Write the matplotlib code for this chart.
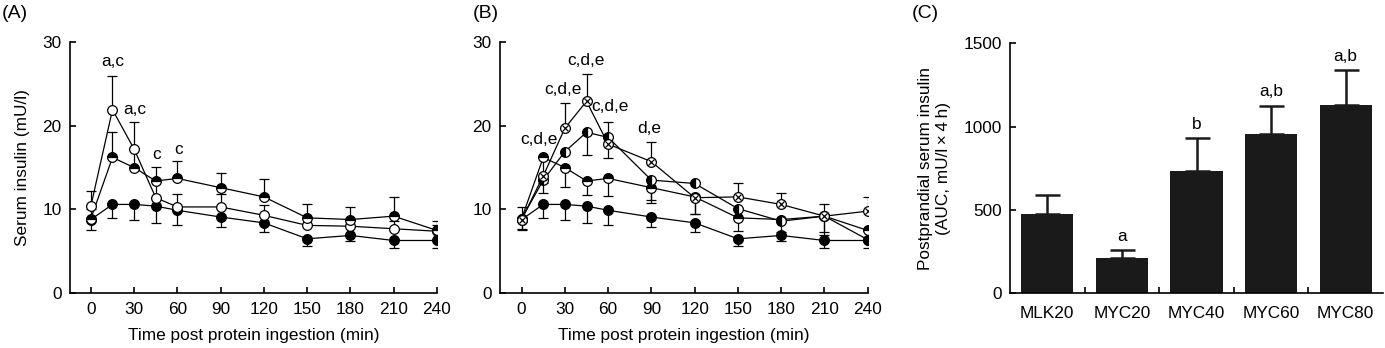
import matplotlib.pyplot as plt
import numpy as np

plt.rcParams['font.family'] = ['Liberation Sans', 'DejaVu Sans']
plt.rcParams['font.size'] = 12.4

# --- data ---
times = [0, 15, 30, 45, 60, 90, 120, 150, 180, 210, 240]

myc20 = [8.8, 10.6, 10.6, 10.4, 9.9, 9.1, 8.4, 6.5, 6.9, 6.3, 6.3]
myc20_se = [1.3, 1.6, 1.9, 2.0, 1.8, 1.2, 1.1, 0.8, 0.7, 0.9, 0.9]

mlk20 = [10.4, 21.9, 17.2, 11.4, 10.3, 10.3, 9.3, 8.1, 8.0, 7.7, 7.4]
mlk20_se = [1.8, 4.0, 3.2, 1.9, 1.6, 1.5, 1.2, 0.9, 0.8, 0.9, 0.8]

myc40 = [8.9, 16.2, 15.0, 13.4, 13.7, 12.6, 11.5, 9.0, 8.8, 9.2, 7.5]
myc40_se = [1.2, 3.0, 2.3, 1.7, 2.1, 1.8, 2.1, 1.6, 1.5, 2.3, 1.1]

myc60 = [8.9, 13.5, 16.9, 19.2, 18.6, 13.5, 13.1, 10.1, 8.6, 9.2, 6.4]
myc60_lo = [0, 1.5, 0, 2.7, 0, 2.4, 0, 0, 0, 1.9, 0]
myc60_hi = [0, 0, 0, 0, 1.8, 0, 0, 0, 0, 0, 0]

myc80 = [8.8, 14.0, 19.7, 22.9, 17.8, 15.7, 11.4, 11.5, 10.6, 9.2, 9.8]
myc80_lo = [0, 0, 0, 0, 1.7, 0, 1.9, 0, 0, 0, 0]
myc80_hi = [1.5, 0, 3.0, 3.2, 0, 2.4, 0, 1.7, 1.4, 1.4, 1.7]

# annotations (x, y, text)
notes_a = [(15.4, 27.7, 'a,c'), (30.7, 21.9, 'a,c'), (45.9, 16.6, 'c'), (60.5, 17.1, 'c')]
notes_b = [(12.2, 18.4, 'c,d,e'), (28.9, 24.3, 'c,d,e'), (44.4, 27.8, 'c,d,e'),
           (61.2, 22.3, 'c,d,e'), (88.5, 19.6, 'd,e')]

groups = ['MLK20', 'MYC20', 'MYC40', 'MYC60', 'MYC80']
auc = [474, 212, 735, 957, 1129]
auc_se = [113, 46, 194, 168, 209]
auc_notes = ['', 'a', 'b', 'a,b', 'a,b']

zeros = [0] * len(times)
MS = 7
LW = 0.9


def series(ax, y, lo, hi, kind):
    ax.errorbar(times, y, yerr=[lo, hi], fmt='none', ecolor='k', elinewidth=LW,
                capsize=3.5, capthick=LW, zorder=1)
    ax.plot(times, y, '-', color='k', lw=LW, zorder=2)
    kw = dict(ls='none', ms=MS, mec='k', mew=LW, zorder=4)
    if kind == 'filled':
        ax.plot(times, y, 'o', mfc='k', **kw)
    elif kind == 'open':
        ax.plot(times, y, 'o', mfc='white', **kw)
    elif kind == 'top':
        ax.plot(times, y, 'o', fillstyle='top', mfc='k', mfcalt='white', **kw)
    elif kind == 'left':
        ax.plot(times, y, 'o', fillstyle='left', mfc='k', mfcalt='white', **kw)
    elif kind == 'cross':
        ax.plot(times, y, 'o', mfc='white', **kw)
        kw['zorder'] = 5
        kw['ms'] = MS / 1.45
        ax.plot(times, y, 'x', **kw)


def style_time_axis(ax, xmin):
    ax.set_xlim(xmin, 240)
    ax.set_ylim(0, 30)
    ax.set_xticks(range(0, 241, 30))
    ax.set_yticks([0, 10, 20, 30])
    for s in ['top', 'right']:
        ax.spines[s].set_visible(False)
    for s in ['left', 'bottom']:
        ax.spines[s].set_linewidth(1.2)
    ax.tick_params(direction='in', length=4, width=1.2, pad=6)
    ax.set_xlabel('Time post protein ingestion (min)', labelpad=8)


fig = plt.figure(figsize=(13.85, 3.48), dpi=100)
h = 0.7227
axA = fig.add_axes([0.0505, 0.1572, 0.2650, h])
axB = fig.add_axes([0.3610, 0.1572, 0.2655, h])
axC = fig.add_axes([0.7292, 0.1580, 0.2694, 0.7176])

# panel A
series(axA, myc20, myc20_se, zeros, 'filled')
series(axA, mlk20, zeros, mlk20_se, 'open')
series(axA, myc40, zeros, myc40_se, 'top')
style_time_axis(axA, -14.5)
axA.set_ylabel('Serum insulin (mU/l)', labelpad=9)
for x, y, t in notes_a:
    axA.text(x, y, t, ha='center', va='center')

# panel B
series(axB, myc20, myc20_se, zeros, 'filled')
series(axB, myc40, myc40_se, zeros, 'top')
series(axB, myc60, myc60_lo, myc60_hi, 'left')
series(axB, myc80, myc80_lo, myc80_hi, 'cross')
style_time_axis(axB, -15)
for x, y, t in notes_b:
    axB.text(x, y, t, ha='center', va='center')

# panel C
xs = np.arange(len(groups))
axC.bar(xs, auc, width=0.7, color='#1a1a1a', zorder=2,
        yerr=[[0] * len(auc), auc_se],
        error_kw=dict(ecolor='#1a1a1a', elinewidth=1.8, capsize=9, capthick=1.8, zorder=1))
for x, v, e, t in zip(xs, auc, auc_se, auc_notes):
    if t:
        axC.annotate(t, (x, v + e), xytext=(0, 10), textcoords='offset points',
                     ha='center', va='center')
axC.set_xlim(-0.5, 4.5)
axC.set_ylim(0, 1500)
axC.set_yticks([0, 500, 1000, 1500])
axC.set_xticks(xs)
axC.set_xticklabels(groups)
axC.set_xticks(xs[:-1] + 0.5, minor=True)
axC.tick_params(axis='x', which='major', length=0, pad=9)
axC.tick_params(axis='x', which='minor', direction='in', length=4, width=1.2)
axC.tick_params(axis='y', direction='in', length=4, width=1.2, pad=6)
for s in ['top', 'right']:
    axC.spines[s].set_visible(False)
for s in ['left', 'bottom']:
    axC.spines[s].set_linewidth(1.2)
axC.set_ylabel('Postprandial serum insulin\n(AUC, mU/l\u2009\u00d7\u20094\u2009h)', labelpad=9)

fig.text(0.0015, 0.985, '(A)', fontsize=14, va='top', ha='left')
fig.text(0.3415, 0.985, '(B)', fontsize=14, va='top', ha='left')
fig.text(0.658, 0.985, '(C)', fontsize=14, va='top', ha='left')

fig.savefig('out.png', dpi=100)
